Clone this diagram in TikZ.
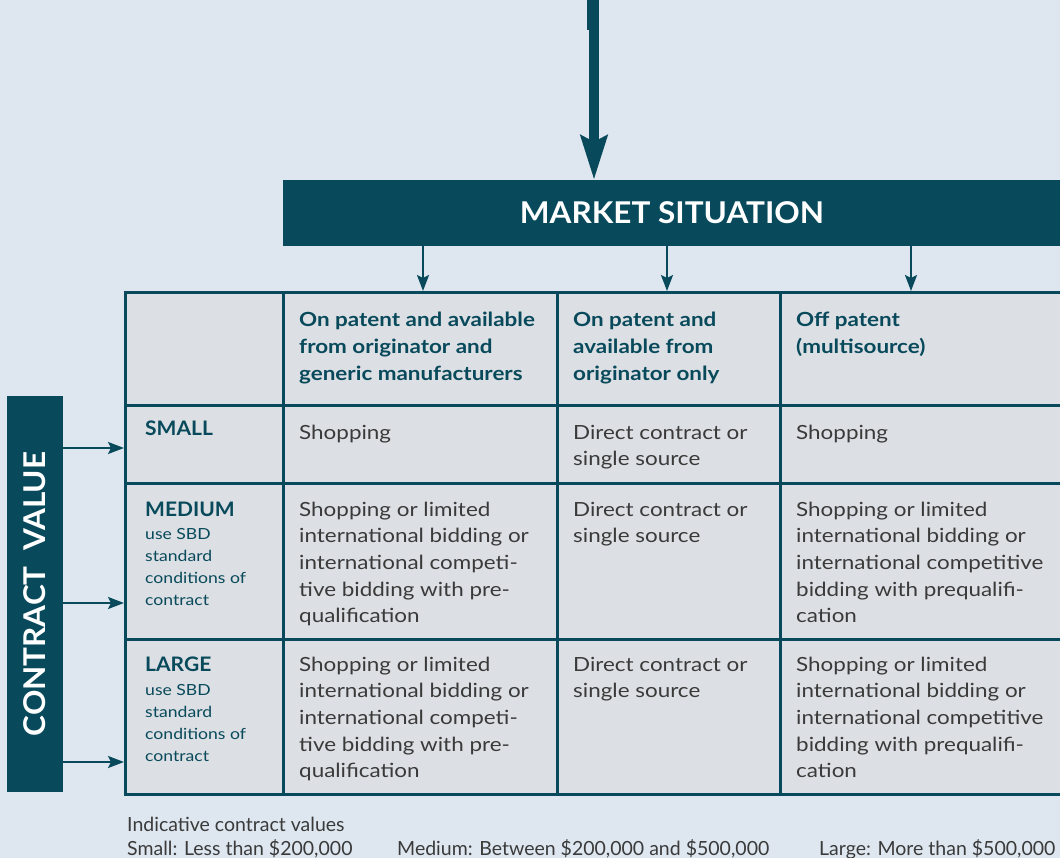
\documentclass[tikz,border=0pt]{standalone}
\usepackage{fontspec}
\setmainfont{Lato}[FakeStretch=1.15]
\newfontfamily\capsfont{Lato}[FakeStretch=1.05]
\newfontfamily\notefont{Lato}
\usetikzlibrary{arrows.meta}
\definecolor{teal}{HTML}{084A5B}
\definecolor{bgblue}{HTML}{DEE7F0}
\definecolor{cellgray}{HTML}{DCDFE3}
\definecolor{bodytext}{HTML}{3A3A3A}
\newcommand{\celltext}[1]{\begin{tabular}[t]{@{}l@{}}#1\end{tabular}}
\tikzset{
  cellbox/.style={draw=teal, fill=cellgray, line width=3.4pt, inner sep=0pt, anchor=north west},
  darkbox/.style={fill=teal, inner sep=0pt, anchor=north west},
  bodytxt/.style={anchor=base west, inner sep=0pt, text=bodytext, font=\fontsize{19.5}{26.7}\selectfont},
  headtxt/.style={anchor=base west, inner sep=0pt, text=teal, font=\bfseries\fontsize{19.5}{26.7}\selectfont},
  captxt/.style={anchor=base west, inner sep=0pt, text=teal, font=\capsfont\bfseries\fontsize{20}{26.7}\selectfont},
  subtxt/.style={anchor=base west, inner sep=0pt, text=teal, font=\fontsize{15.3}{22}\selectfont},
  notetxt/.style={anchor=base west, inner sep=0pt, text=bodytext, font=\notefont\fontsize{19.5}{24}\selectfont},
  smallarrow/.style={draw=teal, line width=2.2pt, -{Stealth[length=16pt, width=12pt, inset=3pt]}},
  bigarrow/.style={draw=teal, line width=10pt, -{Stealth[length=44pt, width=26pt, inset=6pt]}},
}
\begin{document}
\begin{tikzpicture}[x=1pt, y=-1pt]
\useasboundingbox (0,0) rectangle (1060,858);
\fill[bgblue] (0,0) rectangle (1060,858);
\begin{scope}
\clip (0,0) rectangle (1060,858);
% market situation box
\node[darkbox, minimum width=800pt, minimum height=66pt] (ms) at (283,180) {};
\node[text=white, font=\capsfont\bfseries\fontsize{30}{34}\selectfont] (mstxt) at (672,213) {MARKET SITUATION};
% contract value box
\node[darkbox, minimum width=56pt, minimum height=396pt] (cv) at (7,396) {};
\node[text=white, rotate=90, font=\capsfont\bfseries\fontsize{30}{34}\selectfont] (cvtxt) at (35,594) {CONTRACT\ \ VALUE};
% table cells
\foreach \r/\ya/\yb in {0/291/404, 1/404/482, 2/482/638, 3/638/793}{
  \foreach \c/\xa/\xb in {0/124/282, 1/282/556, 2/556/779, 3/779/1110}{
    \pgfmathsetmacro{\w}{\xb-\xa}
    \pgfmathsetmacro{\h}{\yb-\ya}
    \node[cellbox, minimum width=\w pt, minimum height=\h pt] (c-\r-\c) at (\xa,\ya) {};
  }
}
% header texts
\node[headtxt] (h1) at (299,327) {\celltext{On patent and available\\from originator and\\generic manufacturers}};
\node[headtxt] (h2) at (573,327) {\celltext{On patent and\\available from\\originator only}};
\node[headtxt] (h3) at (796,327) {\celltext{Off patent\\(multisource)}};
% row labels
\node[captxt] (l1) at (145,435) {SMALL};
\node[captxt] (l2) at (145,516) {MEDIUM};
\node[subtxt] (l2s) at (145,539) {\celltext{use SBD\\standard\\conditions of\\contract}};
\node[captxt] (l3) at (145,671) {LARGE};
\node[subtxt] (l3s) at (145,695) {\celltext{use SBD\\standard\\conditions of\\contract}};
% body
\node[bodytxt] (b11) at (299,439) {Shopping};
\node[bodytxt] (b12) at (573,439) {\celltext{Direct contract or\\single source}};
\node[bodytxt] (b13) at (796,439) {Shopping};
\node[bodytxt] (b21) at (299,516) {\celltext{Shopping or limited\\international bidding or\\international competi-\\tive bidding with pre-\\qualification}};
\node[bodytxt] (b22) at (573,516) {\celltext{Direct contract or\\single source}};
\node[bodytxt] (b23) at (796,516) {\celltext{Shopping or limited\\international bidding or\\international competitive\\bidding with prequalifi-\\cation}};
\node[bodytxt] (b31) at (299,671) {\celltext{Shopping or limited\\international bidding or\\international competi-\\tive bidding with pre-\\qualification}};
\node[bodytxt] (b32) at (573,671) {\celltext{Direct contract or\\single source}};
\node[bodytxt] (b33) at (796,671) {\celltext{Shopping or limited\\international bidding or\\international competitive\\bidding with prequalifi-\\cation}};
% arrows
\coordinate (top) at (594,0);
\fill[teal] (587,0) rectangle (598,30);
\draw[bigarrow] (top) -- (top |- ms.north);
\foreach \x/\c in {423/1, 667/2, 911/3}{
  \coordinate (a\c) at (\x,0);
  \draw[smallarrow] (a\c |- ms.south) -- (a\c |- c-0-\c.north);
}
\foreach \y/\r in {448/1, 603/2, 762/3}{
  \coordinate (b\r) at (0,\y);
  \draw[smallarrow] (b\r -| cv.east) -- (b\r -| c-\r-0.west);
}
\end{scope}
% footnote
\node[notetxt] (n0) at (127,831) {Indicative contract values};
\node[notetxt] (n1) at (127,855) {Small: Less than \$200,000};
\node[notetxt] (n2) at (397,855) {Medium: Between \$200,000 and \$500,000};
\node[notetxt] (n3) at (819,855) {Large: More than \$500,000};
\end{tikzpicture}
\end{document}
